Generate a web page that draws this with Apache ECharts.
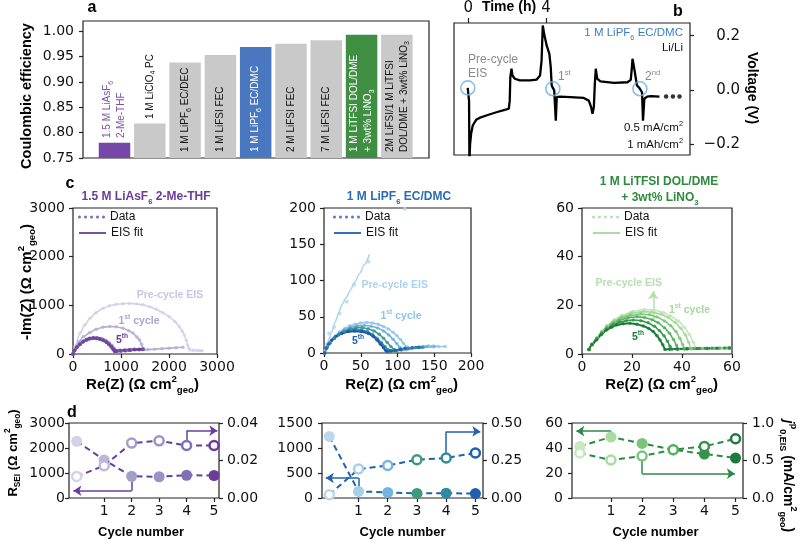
<!DOCTYPE html>
<html><head><meta charset="utf-8">
<script src="https://cdn.jsdelivr.net/npm/echarts@6/dist/echarts.min.js"></script>
<style>html,body{margin:0;padding:0;background:#fff}#c{width:800px;height:541px}</style>
</head><body><div id="c"></div>
<script>
// ---------------- Panel a : Coulombic efficiency ----------------
const ceLabels = [
  '{p|1.5 M LiAsF}{ps|6}\n{p|2-Me-THF}',
  '{k|1 M LiClO}{ks|4}{k| PC}',
  '{k|1 M LiPF}{ks|6}{k| EC/DEC}',
  '{k|1 M LiFSI FEC}',
  '{w|1 M LiPF}{ws|6}{w| EC/DMC}',
  '{k|2 M LiFSI FEC}',
  '{k|7 M LiFSI FEC}',
  '{w|1 M LiTFSI DOL/DME}\n{w|+ 3wt% LiNO}{ws|3}',
  '{k|2M LiFSI/1 M LiTFSI}\n{k|DOL/DME + 3wt% LiNO}{ks|3}'
];
const ceValues = [0.780, 0.818, 0.938, 0.953, 0.969, 0.975, 0.982, 0.993, 0.993];
const ceTicks = [0.75, 0.80, 0.85, 0.90, 0.95, 1.00];

// ---------------- Panel b : voltage profile ----------------
const bTime = [-0.035,0.017,0.035,0.052,0.09,0.14,0.225,0.4,0.57,0.92,1.44,1.87,2.08,2.13,2.16,2.22,2.27,2.39,2.65,3.17,3.52,3.69,3.77,3.83,3.9,4.03,4.17,4.24,4.29,4.35,4.42,4.47,4.5,4.55,4.73,5.25,5.94,6.2,6.32,6.39,6.46,6.51,6.56,6.63,6.8,7.5,8.19,8.36,8.42,8.45,8.5,8.57,8.68,8.8,8.89,8.94,8.99,9.06,9.2,9.4,9.84];
const bVolt = [0.007,0.0,-0.04,-0.26,-0.2,-0.163,-0.132,-0.111,-0.104,-0.095,-0.083,-0.074,-0.07,-0.04,0.047,0.078,0.053,0.041,0.035,0.035,0.038,0.053,0.109,0.238,0.207,0.164,0.133,0.084,0.016,0.007,-0.002,-0.009,-0.114,-0.027,-0.025,-0.027,-0.03,-0.04,-0.064,-0.089,-0.064,0.022,0.078,0.041,0.031,0.026,0.028,0.037,0.084,0.115,0.096,0.065,0.016,0.007,0.0,-0.009,-0.114,-0.033,-0.025,-0.023,-0.025];
const bEisTime = [-0.03, 4.35, 8.83];
const bEisVolt = [0.007, 0.004, 0.004];
const bMoreTime = [10.18, 10.53, 10.87];
const bMoreVolt = [-0.025, -0.025, -0.025];
const bTimeTicks = [0, 4];
const bVoltTicks = [-0.2, 0, 0.2];

// ---------------- Panel c : Nyquist plots ----------------
const asfPre = [[0,0],[40,150],[145,425],[250,600],[352,733],[480,850],[628,938],[760,990],[904,1020],[1040,1035],[1180,1040],[1320,1030],[1456,1010],[1600,970],[1733,918],[1870,850],[2008,766],[2120,670],[2215,561],[2275,470],[2318,390],[2360,280],[2388,185],[2415,120],[2436,82],[2500,75],[2580,72],[2640,70],[2690,68]];
const asf1 = [[0,0],[40,110],[120,250],[220,360],[352,440],[480,510],[620,550],[766,565],[900,560],[1040,530],[1160,480],[1248,430],[1330,350],[1387,287],[1430,200],[1460,120],[1480,85],[1560,90],[1700,100],[1850,110],[2000,120],[2150,130],[2290,140]];
const asf2 = [[0,0],[40,80],[100,160],[170,230],[250,285],[330,320],[420,340],[510,338],[600,320],[680,285],[750,235],[810,180],[860,120],[900,70],[930,50],[1000,58],[1100,66],[1200,74]];
const asf3 = [[0,0],[35,75],[90,150],[160,215],[240,270],[320,305],[410,320],[500,318],[590,300],[670,265],[735,220],[795,165],[845,105],[880,60],[910,52],[1000,60],[1100,68],[1200,76]];
const asf4 = [[0,0],[30,70],[80,140],[145,198],[210,248],[283,288],[350,313],[420,323],[490,318],[559,303],[630,278],[697,238],[750,193],[801,143],[840,93],[875,55],[905,56],[1000,64],[1100,72],[1200,80]];
const asf5 = [[0,0],[30,70],[80,140],[145,200],[210,255],[283,295],[350,320],[420,330],[490,325],[559,310],[630,285],[697,245],[750,200],[801,150],[840,100],[870,55],[900,60],[980,70],[1080,78],[1180,84],[1280,90],[1380,95],[1456,100]];

const pfPreFit = [[1,0],[3,8],[6,17],[10.5,29],[15,42],[20,55],[24,66],[30,76],[36,87],[42,98],[48,109],[55,122],[62,136]];
const pfPreData = [[2,3],[4,12],[6.8,27],[13.6,36],[21,54.6],[31,70.6],[41,94.5],[60.5,125.7],[110,199]];
const pf1 = [[1,0],[4,8],[8,15],[15,22.5],[21,29],[28.6,34],[35,37.5],[42.3,39.5],[50,41.5],[58,42.2],[66,41.5],[74,39.5],[81,36.5],[87.8,33],[94,28.5],[99,24],[104,18.5],[108,13.3],[112,9],[116,6.5],[122,6.8],[128.7,7.4],[135,9],[142,10],[149,9.5],[155.6,9],[165,9]];
const pf2 = [[1,0],[4,8],[8,14.5],[14,21],[21,27.5],[28,32],[36,35.5],[45,37.5],[55,38],[64,37],[73,34.5],[81,30.5],[88,25],[94,19],[99,13],[103,8],[107,4.5],[112,4.5],[120,6.5],[130,7.8],[140,8.5],[150,8.5]];
const pf3 = [[1,0],[4,8],[8,14],[14,20.5],[21,26.5],[28,30.5],[36,33.5],[44,35],[52,35],[60,33.5],[68,30.5],[75,26],[81,20.5],[86,14.5],[91,9],[95,5],[99,3],[105,4],[115,6],[125,7.5],[135,8]];
const pf4 = [[1,0],[4,7.5],[8,13.5],[14,20],[20,25],[27,29],[35,31.8],[43,32.5],[51,31.8],[59,29.5],[66,25.5],[72,20.5],[78,14.5],[83,9],[87,5],[91,3],[97,3.5],[105,5],[115,6.5],[125,7.5],[133,8]];
const pf5 = [[1,0],[3,6],[6,12],[10.5,17.9],[16,23],[24,27],[33,29.5],[42,30.3],[51,29.5],[60.5,27],[67,23],[72,18],[77,12],[81,7.3],[84,3.5],[86,2],[91,2.8],[97,3.7],[104,5.2],[110.5,6.4],[120,7.2],[129,7.8]];

const tfPre = [[2.8,1.9],[4,4.1],[6,6.8],[8,9.4],[10,11.7],[13,14.2],[16,16],[20.5,17.6],[25,18.3],[29,18],[32.5,17.1],[35.5,15.6],[38.5,13.6],[41,11],[43,8],[44.6,4.8],[45.5,2.4],[48,2.4],[52,2.5],[56,2.5],[59,2.6]];
const tf1 = [[2.8,1.9],[4,4],[6,6.7],[8,9.2],[10,11.5],[13,13.8],[16,15.5],[20,16.8],[24.5,17.4],[28,17.2],[31.5,16.4],[34.5,15],[37.2,13],[39.5,10.6],[41.4,7.8],[42.7,4.8],[43.5,2.2],[46,2.3],[50,2.4],[55,2.5],[59,2.5]];
const tf2 = [[2.8,1.9],[4,4],[6,6.6],[8,9],[10,11.2],[13,13.3],[16,14.9],[19.5,15.9],[23.5,16.4],[27,16.1],[30,15.2],[33,13.6],[35.5,11.6],[37.6,9.2],[39.2,6.4],[40.3,3.8],[41,2.1],[44,2.2],[48,2.3],[53,2.4],[58,2.5]];
const tf3 = [[2.8,1.9],[4,3.9],[6,6.4],[8,8.8],[10,10.8],[12.5,12.6],[15,13.9],[18.5,14.9],[22,15.3],[25,15],[28,14.1],[30.5,12.8],[33,10.8],[35,8.5],[36.6,6],[37.8,3.6],[38.5,2],[41,2.1],[45,2.2],[50,2.3],[55,2.4],[59,2.5]];
const tf4 = [[2.8,1.9],[4,3.9],[6,6.2],[8,8.5],[10,10.3],[12.5,11.9],[15,13],[17.8,13.7],[20.5,14],[23.5,13.7],[26.5,12.8],[29,11.4],[31,9.6],[32.8,7.5],[34.2,5.2],[35.2,3.2],[36,2],[38,2.1],[42,2.2],[47,2.3],[52,2.4],[57,2.5]];
const tf5 = [[2.8,1.9],[4,3.8],[5.8,5.8],[7.8,8],[9.8,9.9],[11.8,11],[13.8,11.9],[16.5,12.4],[19.2,12.6],[22,12.2],[24.5,11.5],[26.7,10.5],[28.5,9.2],[30,7.5],[31.2,5.8],[32.3,3.8],[33.2,1.9],[35,2],[38,2.1],[42,2.2],[46,2.3],[50,2.3],[54,2.4],[59,2.5]];

// ---------------- Panel d : R_SEI and j0 vs cycle ----------------
const dCycles = [0, 1, 2, 3, 4, 5];
const dRseiAsf = [2270, 1520, 870, 850, 910, 900];
const dJ0Asf = [0.0115, 0.0172, 0.0293, 0.0305, 0.028, 0.028];
const dRseiPf = [1232, 132, 112, 92, 95, 88];
const dJ0Pf = [0.022, 0.193, 0.217, 0.255, 0.267, 0.300];
const dRseiTf = [41.3, 48.8, 43.7, 38.6, 35.2, 32.0];
const dJ0Tf = [0.60, 0.507, 0.56, 0.644, 0.688, 0.79];

// ================= styling / building =================
const FB = 'Liberation Sans, Arial, sans-serif';
const FD = 'DejaVu Sans, sans-serif';
const asfCol = ['#d3d1ea','#b3aed6','#a39dcb','#928bc0','#7f6db3','#6a3d9a'];
const pfCol  = ['#b0d6ee','#96c8e7','#6cb0dc','#3f9a86','#2f84b4','#1c58a8'];
const tfCol  = ['#c4e6bc','#a3d89c','#7cc57a','#55b15d','#34954a','#1b7a3a'];
const barCol = ['#7447a8','#c9c9c9','#c9c9c9','#c9c9c9','#4a78c0','#c9c9c9','#c9c9c9','#3f8f42','#c9c9c9'];
const barLabelDist = [20, 39, 6, 6, 6, 6, 6, 6, 6];

const gridBase = {show:true, borderColor:'#222', borderWidth:1.2, containLabel:false, outerBoundsMode:'none'};
const grids = [
  {left:83, top:21, width:346, height:137},
  {left:454, top:23, width:236, height:132},
  {left:73, top:208, width:144, height:146},
  {left:324, top:208, width:147, height:145},
  {left:582, top:208, width:150, height:146},
  {left:69, top:423, width:150, height:75},
  {left:322, top:423, width:161, height:75},
  {left:572, top:423, width:171, height:75}
].map(g => Object.assign({}, gridBase, g));

function vax(gi, min, max, ticks, o) {
  o = o || {};
  const hasT = ticks.length > 0;
  return {
    type:'value', gridIndex:gi, min:min, max:max, position:o.position,
    axisLine:{show:false, onZero:false}, splitLine:{show:false},
    axisTick:{show:hasT, length:o.tickLen||4, customValues:ticks, lineStyle:{color:'#222', width:1.2}},
    axisLabel:{show:hasT, customValues:ticks, fontSize:o.fs||14, fontFamily:FD, color:'#111',
      margin:(o.margin==null?7:o.margin), align:o.align, formatter:o.fmt||(v => String(v))}
  };
}

const xAxes = [
  vax(0, -0.892, 8.91, []),
  vax(1, -0.74, 11.41, bTimeTicks, {position:'top', tickLen:5, margin:7, fs:15}),
  vax(2, 0, 3000, [0,1000,2000,3000], {margin:6}),
  vax(3, 0, 200, [0,50,100,150,200], {margin:6}),
  vax(4, 0, 60, [0,20,40,60], {margin:6}),
  vax(5, -0.28, 5.18, [1,2,3,4,5], {margin:6}),
  vax(6, -0.25, 5.26, [1,2,3,4,5], {margin:6}),
  vax(7, -0.25, 5.24, [1,2,3,4,5], {margin:6})
];
const yAxes = [
  vax(0, 0.75, 1.02, ceTicks, {margin:9, fmt:v => v.toFixed(2)}),
  vax(1, -0.241, 0.247, bVoltTicks, {position:'right', margin:50, align:'right', fs:15,
       fmt:v => (v < -1e-9 ? '\u2212' : '') + Math.abs(v).toFixed(1)}),
  vax(2, 0, 3000, [0,1000,2000,3000], {margin:8}),
  vax(3, 0, 200, [0,50,100,150,200], {margin:8}),
  vax(4, 0, 60, [0,20,40,60], {margin:8}),
  vax(5, 0, 3000, [0,1000,2000,3000], {margin:4}),
  vax(5, 0, 0.04, [0,0.02,0.04], {position:'right', margin:8, fmt:v => v.toFixed(2)}),
  vax(6, 0, 1500, [0,500,1000,1500], {margin:9}),
  vax(6, 0, 0.5, [0,0.25,0.5], {position:'right', margin:8, fmt:v => v.toFixed(2)}),
  vax(7, 0, 60, [0,20,40,60], {margin:9}),
  vax(7, 0, 1, [0,0.5,1], {position:'right', margin:9, fmt:v => v.toFixed(1)})
];

function lbl(c, s) { return {color:c, fontSize:s||10, fontFamily:FB, lineHeight:14}; }
function sub(c) { return {color:c, fontSize:7, fontFamily:FB, lineHeight:8, verticalAlign:'bottom'}; }
const barRich = {p:lbl('#7b52ab'), ps:sub('#7b52ab'), k:lbl('#111'), ks:sub('#111'), w:lbl('#fff'), ws:sub('#fff')};

const series = [];
series.push({
  type:'bar', xAxisIndex:0, yAxisIndex:0, barWidth:31.5, silent:true,
  data: ceValues.map((v,i) => ({value:[i, v], itemStyle:{color:barCol[i]}, label:{distance:barLabelDist[i]}})),
  label:{show:true, position:'insideBottom', rotate:90, align:'left', verticalAlign:'middle',
         formatter:p => ceLabels[p.dataIndex], rich:barRich}
});

// panel b
series.push({type:'line', xAxisIndex:1, yAxisIndex:1, data:bTime.map((t,i)=>[t, bVolt[i]]),
  showSymbol:false, symbol:'none', lineStyle:{color:'#000', width:2.3}, z:3, silent:true});
series.push({type:'scatter', xAxisIndex:1, yAxisIndex:1, data:bEisTime.map((t,i)=>[t, bEisVolt[i]]),
  symbol:'circle', symbolSize:14, itemStyle:{color:'rgba(0,0,0,0)', borderColor:'#6ab2e0', borderWidth:1.6}, z:4, silent:true});
series.push({type:'scatter', xAxisIndex:1, yAxisIndex:1, data:bMoreTime.map((t,i)=>[t, bMoreVolt[i]]),
  symbol:'circle', symbolSize:4.5, itemStyle:{color:'#000'}, z:4, silent:true});

// panel c
function eis(ax, pts, color, o) {
  o = o || {};
  series.push({type:'line', name:o.fitName, xAxisIndex:ax, yAxisIndex:ax, data:o.fit || pts,
    smooth:0.25, smoothMonotone:'x', showSymbol:false, symbol:'none',
    lineStyle:{color:color, width:o.lw || 1.6}, itemStyle:{color:color}, z:2, silent:true});
  series.push({type:'scatter', name:o.dataName, xAxisIndex:ax, yAxisIndex:ax, data:pts,
    symbolSize:o.ds || 3.5, itemStyle:{color:color}, z:3, silent:true});
}
[asfPre, asf1, asf2, asf3, asf4].forEach((a,i) => eis(2, a, asfCol[i]));
eis(2, asf5, asfCol[5], {lw:2.6, ds:4, fitName:'FitL', dataName:'DataL'});
eis(3, pfPreData, pfCol[0], {fit:pfPreFit, ds:4});
[pf1, pf2, pf3, pf4].forEach((a,i) => eis(3, a, pfCol[i+1]));
eis(3, pf5, pfCol[5], {lw:2.2, fitName:'FitM', dataName:'DataM'});
eis(4, tfPre, tfCol[0], {fitName:'FitR', dataName:'DataR'});
[tf1, tf2, tf3, tf4, tf5].forEach((a,i) => eis(4, a, tfCol[i+1], {lw: i===4 ? 2 : 1.6}));

// arrows
function seg(xi, yi, a, b, color, head) {
  series.push({type:'lines', coordinateSystem:'cartesian2d', xAxisIndex:xi, yAxisIndex:yi,
    symbol: head ? ['none','arrow'] : ['none','none'], symbolSize:8,
    lineStyle:{color:color, width:1.5, opacity:1, curveness:0}, data:[{coords:[a, b]}], z:1, silent:true, animation:false});
}
seg(4, 4, [28.5, 13.3], [28.5, 25.8], '#b5dfae', true);

// panel d
function dSet(xi, yl, yr, rsei, j0, cols, lc) {
  series.push({type:'line', xAxisIndex:xi, yAxisIndex:yl, symbol:'circle', symbolSize:11,
    data:dCycles.map((c,i) => ({value:[c, rsei[i]], itemStyle:{color:cols[i]}})),
    lineStyle:{color:lc, width:2, type:[6,4]}, z:3, silent:true});
  series.push({type:'line', xAxisIndex:xi, yAxisIndex:yr, symbol:'circle', symbolSize:9,
    data:dCycles.map((c,i) => ({value:[c, j0[i]], itemStyle:{color:'#fff', borderColor:cols[i], borderWidth:2.5}})),
    lineStyle:{color:lc, width:2, type:[6,4]}, z:4, silent:true});
}
const dColAsf = ['#d4d2ea','#bcb7db','#a49ecb','#9a93c4','#8070b5','#6a3d9a'];
const dColPf  = ['#b9d8ec','#a6cfe8','#74b3de','#3d9a7c','#2d8aa0','#1f5fb0'];
const dColTf  = ['#c7e9c0','#a8dca0','#7cc47a','#56b060','#34954a','#1b7a3c'];
dSet(5, 5, 6, dRseiAsf, dJ0Asf, dColAsf, '#6a3d9a');
dSet(6, 7, 8, dRseiPf, dJ0Pf, dColPf, '#1f62b0');
dSet(7, 9, 10, dRseiTf, dJ0Tf, dColTf, '#2a8a45');
// d arrows (left → R_SEI axis, right → j0 axis)
seg(5, 5, [2, dRseiAsf[2]], [2, 290], '#6a3d9a', false);
seg(5, 5, [2, 290], [-0.12, 290], '#6a3d9a', true);
seg(5, 6, [4, dJ0Asf[4]], [4, 0.0359], '#6a3d9a', false);
seg(5, 6, [4, 0.0359], [5.12, 0.0359], '#6a3d9a', true);
seg(6, 7, [1, dRseiPf[1]], [1, 400], '#1f62b0', false);
seg(6, 7, [1, 400], [-0.12, 400], '#1f62b0', true);
seg(6, 8, [4, dJ0Pf[4]], [4, 0.444], '#1f62b0', false);
seg(6, 8, [4, 0.444], [5.17, 0.444], '#1f62b0', true);
seg(7, 9, [1, dRseiTf[1]], [1, 53.5], '#2a8a45', false);
seg(7, 9, [1, 53.5], [-0.11, 53.5], '#2a8a45', true);
seg(7, 10, [2, dJ0Tf[2]], [2, 0.324], '#2a8a45', false);
seg(7, 10, [2, 0.324], [4.98, 0.324], '#2a8a45', true);

// legends
const dotsPath = 'path://M0,1.5a1.5,1.5 0 1,0 3,0a1.5,1.5 0 1,0 -3,0M6,1.5a1.5,1.5 0 1,0 3,0a1.5,1.5 0 1,0 -3,0M12,1.5a1.5,1.5 0 1,0 3,0a1.5,1.5 0 1,0 -3,0M18,1.5a1.5,1.5 0 1,0 3,0a1.5,1.5 0 1,0 -3,0M24,1.5a1.5,1.5 0 1,0 3,0a1.5,1.5 0 1,0 -3,0';
function leg(name, left, top, color, isData) {
  return {show:true, left:left, top:top, orient:'horizontal', padding:0, itemGap:0, selectedMode:false,
    itemWidth:27, itemHeight: isData ? 3 : 1.8,
    data:[{name:name, icon: isData ? dotsPath : 'rect', itemStyle:{color:color, borderWidth:0}}],
    formatter: () => isData ? 'Data' : 'EIS fit',
    textStyle:{fontSize:12, fontFamily:FB, color:'#111'}};
}
const legends = [
  leg('DataL', 78, 211, '#6a3d9a', true), leg('FitL', 79, 227, '#6a3d9a', false),
  leg('DataM', 333, 211, '#1f5fb0', true), leg('FitM', 334, 227, '#1f5fb0', false),
  leg('DataR', 592, 211, '#a3d89c', true), leg('FitR', 593, 227, '#a3d89c', false)
];

// text annotations
function rich(size, color, bold, fam) {
  const w = bold ? 'bold' : 'normal';
  const s2 = Math.round(size * 0.64 * 10) / 10;
  const lh = Math.round(size * 1.4);
  return {
    n:{fontSize:size, fill:color, fontWeight:w, fontFamily:fam, lineHeight:lh, verticalAlign:'middle'},
    i:{fontSize:size, fill:color, fontWeight:w, fontStyle:'italic', fontFamily:fam, lineHeight:lh, verticalAlign:'middle'},
    sup:{fontSize:s2, fill:color, fontWeight:w, fontFamily:fam, lineHeight:Math.round(size*0.8), verticalAlign:'top'},
    sub:{fontSize:s2, fill:color, fontWeight:w, fontFamily:fam, lineHeight:Math.round(size*0.8), verticalAlign:'bottom'}
  };
}
function T(x, y, text, size, color, o) {
  o = o || {};
  return {type:'text', x:x, y:y, rotation:o.rot || 0, silent:true, z:50,
    style:{text:text, align:o.align || 'center', verticalAlign:'middle', fill:color, fontSize:size,
           fontFamily:o.fam || FB, rich:rich(size, color, o.bold, o.fam || FB)}};
}
const B = {bold:true};
const P2 = Math.PI / 2;
const graphics = [
  T(92, 8, '{n|a}', 16, '#000', B),
  T(678, 12, '{n|b}', 16, '#000', B),
  T(70, 184, '{n|c}', 16, '#000', B),
  T(72, 413, '{n|d}', 16, '#000', B),
  T(27, 96, '{n|Coulombic efficiency}', 14.5, '#000', {bold:true, rot:P2}),
  T(509, 7, '{n|Time (h)}', 14, '#000', B),
  T(683, 33, '{n|1 M LiPF}{sub|6}{n| EC/DMC}', 11.5, '#3a7fc2', {align:'right'}),
  T(683, 48, '{n|Li/Li}', 11.5, '#111', {align:'right'}),
  T(468, 60, '{n|Pre-cycle}', 12, '#8a8a8a', {align:'left'}),
  T(468, 74, '{n|EIS}', 12, '#8a8a8a', {align:'left'}),
  T(558, 77, '{n|1}{sup|st}', 12, '#8a8a8a', {align:'left'}),
  T(645, 77, '{n|2}{sup|nd}', 12, '#8a8a8a', {align:'left'}),
  T(683, 128, '{n|0.5 mA/cm}{sup|2}', 11.5, '#111', {align:'right'}),
  T(683, 145, '{n|1 mAh/cm}{sup|2}', 11.5, '#111', {align:'right'}),
  T(752, 88, '{n|Voltage (V)}', 14, '#000', {bold:true, rot:-P2}),
  T(146, 197, '{n|1.5 M LiAsF}{sub|6}{n| 2-Me-THF}', 12, '#6a3d9a', B),
  T(399, 197, '{n|1 M LiPF}{sub|6}{n| EC/DMC}', 12, '#2a6cb6', B),
  T(659, 182, '{n|1 M LiTFSI DOL/DME}', 12, '#2e8b3e', B),
  T(660, 198, '{n|+ 3wt% LiNO}{sub|3}', 12, '#2e8b3e', B),
  T(27, 282, '{n|-Im(Z) (\u03a9 cm}{sup|2}{sub|geo}{n|)}', 15, '#000', {bold:true, rot:P2}),
  T(142.5, 385, '{n|Re(Z) (\u03a9 cm}{sup|2}{sub|geo}{n|)}', 15, '#000', B),
  T(401.7, 385, '{n|Re(Z) (\u03a9 cm}{sup|2}{sub|geo}{n|)}', 15, '#000', B),
  T(661.7, 385, '{n|Re(Z) (\u03a9 cm}{sup|2}{sub|geo}{n|)}', 15, '#000', B),
  T(170, 295, '{n|Pre-cycle EIS}', 10.5, '#c8c5e3', B),
  T(139, 321, '{n|1}{sup|st}{n| cycle}', 10.5, '#aaa5cf', B),
  T(122, 340, '{n|5}{sup|th}', 10.5, '#6a3d9a', B),
  T(394.7, 285, '{n|Pre-cycle EIS}', 10.5, '#a9d3ec', B),
  T(401, 316, '{n|1}{sup|st}{n| cycle}', 10.5, '#8ec4e6', B),
  T(358, 341, '{n|5}{sup|th}', 10.5, '#1f5fb0', B),
  T(628.7, 283.3, '{n|Pre-cycle EIS}', 10.5, '#b5dfae', B),
  T(689.5, 310, '{n|1}{sup|st}{n| cycle}', 10.5, '#a5d89e', B),
  T(638, 337, '{n|5}{sup|th}', 10.5, '#1e7b3a', B),
  T(13, 453, '{n|R}{sub|SEI}{n| (\u03a9 cm}{sup|2}{sub|geo}{n|)}', 13, '#000', {bold:true, rot:P2}),
  T(788, 476, '{i|j}{sup|p}{sub|0,EIS}{n| (mA/cm}{sup|2}{sub|geo}{n|)}', 14, '#000', {bold:true, rot:-P2}),
  T(141, 532, '{n|Cycle number}', 13, '#000', B),
  T(402.5, 532, '{n|Cycle number}', 13, '#000', B),
  T(655.5, 532, '{n|Cycle number}', 13, '#000', B)
];

const chart = echarts.init(document.getElementById('c'), null, {renderer:'canvas', width:800, height:541});
chart.setOption({
  animation:false,
  backgroundColor:'#fff',
  textStyle:{fontFamily:FD},
  grid:grids, xAxis:xAxes, yAxis:yAxes,
  legend:legends, series:series, graphic:graphics
});
</script>
</body></html>
